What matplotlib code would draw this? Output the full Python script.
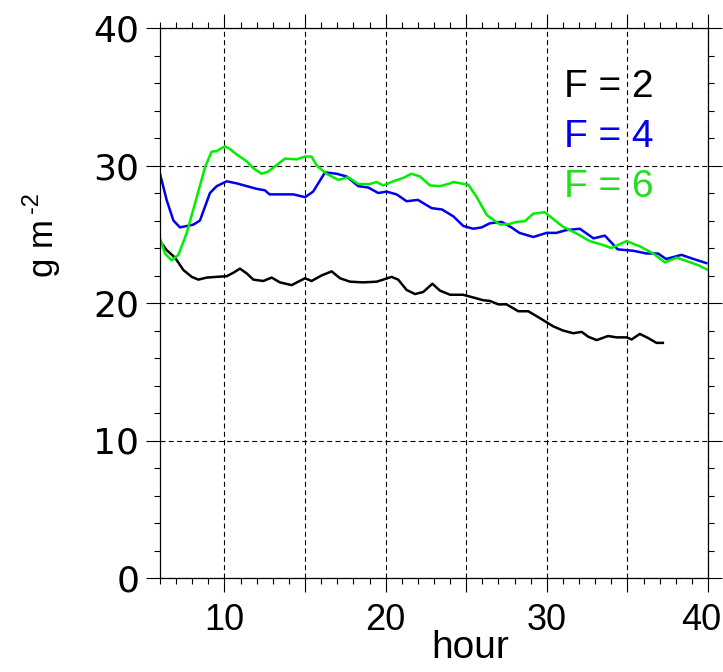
import numpy as np
import matplotlib
matplotlib.use('Agg')
import matplotlib.pyplot as plt
from matplotlib.ticker import MultipleLocator, FuncFormatter
from matplotlib.transforms import ScaledTranslation

# values
hour_f2 = [6.0, 6.41, 6.93, 7.45, 7.97, 8.38, 8.9, 9.52, 10.14, 10.55, 10.96, 11.38, 11.79,
           12.41, 12.93, 13.44, 14.17, 14.58, 15.0, 15.4, 16.02, 16.65, 17.17, 17.79, 18.6,
           19.44, 19.85, 20.37, 20.78, 21.3, 21.82, 22.33, 22.9, 23.37, 24.0, 24.8, 25.44,
           26.06, 26.47, 26.99, 27.5, 28.23, 28.85, 29.57, 30.4, 31.0, 31.64, 32.16, 32.57,
           33.09, 33.8, 34.33, 34.95, 35.26, 35.77, 36.29, 36.8, 37.2]
val_f2 = [24.5, 23.85, 23.3, 22.4, 21.9, 21.7, 21.85, 21.9, 21.95, 22.2, 22.5, 22.15, 21.7,
          21.6, 21.85, 21.5, 21.3, 21.55, 21.8, 21.6, 22.0, 22.3, 21.8, 21.55, 21.5,
          21.55, 21.7, 21.9, 21.7, 20.95, 20.65, 20.8, 21.4, 20.9, 20.6, 20.6, 20.4,
          20.2, 20.15, 19.9, 19.9, 19.4, 19.4, 18.9, 18.3, 18.0, 17.8, 17.9, 17.55,
          17.3, 17.6, 17.5, 17.5, 17.35, 17.75, 17.45, 17.1, 17.1]

hour_f4 = [6.0, 6.41, 6.83, 7.24, 7.66, 8.07, 8.48, 9.1, 9.52, 10.14, 10.76, 11.38, 12.0,
           12.5, 12.8, 13.65, 14.27, 15.0, 15.5, 16.24, 16.96, 17.58, 18.3, 18.92, 19.54,
           20.06, 20.68, 21.3, 22.0, 22.85, 23.5, 24.2, 24.82, 25.44, 25.96, 26.47, 27.2,
           27.8, 28.3, 29.16, 29.99, 30.6, 31.2, 32.05, 32.9, 33.6, 34.4, 35.35, 36.2,
           36.9, 37.4, 38.35, 39.1, 39.9]
val_f4 = [29.4, 27.5, 26.0, 25.5, 25.6, 25.7, 26.0, 28.0, 28.5, 28.85, 28.7, 28.5, 28.3,
          28.2, 27.9, 27.9, 27.9, 27.7, 28.1, 29.5, 29.4, 29.2, 28.5, 28.4, 28.0,
          28.1, 27.9, 27.4, 27.5, 26.9, 26.8, 26.3, 25.6, 25.4, 25.5, 25.8, 25.9,
          25.5, 25.1, 24.8, 25.1, 25.1, 25.3, 25.4, 24.7, 24.9, 23.9, 23.8, 23.6,
          23.6, 23.2, 23.5, 23.2, 22.9]

hour_f6 = [6.0, 6.31, 6.72, 7.14, 7.66, 8.28, 8.8, 9.2, 9.52, 10.03, 10.34, 10.76, 11.38,
           11.79, 12.3, 12.7, 13.2, 13.75, 14.48, 15.0, 15.4, 15.72, 16.33, 17.06, 17.68,
           18.3, 19.0, 19.44, 19.85, 20.47, 21.1, 21.6, 22.13, 22.75, 23.37, 24.0, 24.2,
           25.13, 25.65, 26.27, 27.1, 27.7, 28.13, 28.64, 29.16, 29.88, 30.4, 31.0, 31.85,
           32.67, 33.4, 34.0, 34.95, 35.8, 36.6, 37.33, 38.05, 38.67, 39.4, 40.0]
val_f6 = [24.7, 23.6, 23.1, 23.5, 25.1, 27.7, 29.9, 31.0, 31.05, 31.4, 31.2, 30.8, 30.3,
          29.8, 29.4, 29.55, 30.0, 30.5, 30.45, 30.65, 30.65, 30.0, 29.4, 28.95, 29.15,
          28.65, 28.65, 28.8, 28.55, 28.85, 29.1, 29.4, 29.2, 28.55, 28.5, 28.7, 28.8,
          28.6, 27.7, 26.4, 25.7, 25.75, 25.9, 25.95, 26.5, 26.6, 26.1, 25.55, 25.05,
          24.5, 24.25, 24.0, 24.5, 24.1, 23.6, 22.95, 23.3, 23.05, 22.75, 22.4]

labels = ['F = 2', 'F = 4', 'F = 6']
line_colors = ['black', '#0000ee', '#00ee00']
text_colors = ['black', '#0000ee', '#22dd22']

plt.rcParams['font.family'] = ['Liberation Sans', 'DejaVu Sans']

fig = plt.figure(figsize=(7.23, 6.72), dpi=100)
ax = fig.add_axes([160 / 723, 1 - 578 / 672, 548 / 723, 550 / 672])

ax.plot(hour_f2, val_f2, color=line_colors[0], lw=1.8)
ax.plot(hour_f4, val_f4, color=line_colors[1], lw=1.8)
ax.plot(hour_f6, val_f6, color=line_colors[2], lw=1.8)

ax.set_xlim(6, 40)
ax.set_ylim(0, 40)

ax.xaxis.set_major_locator(MultipleLocator(5))
ax.xaxis.set_minor_locator(MultipleLocator(1))
ax.yaxis.set_major_locator(MultipleLocator(10))
ax.yaxis.set_minor_locator(MultipleLocator(2))
ax.xaxis.set_major_formatter(FuncFormatter(lambda v, p: '%d' % v if v % 10 == 0 else ''))

ax.tick_params(which='both', direction='out', top=True, right=True, width=0.8)
ax.tick_params(which='major', length=10)
ax.tick_params(which='minor', length=4.5)
ax.tick_params(axis='x', which='major', pad=8, labelsize=26)
ax.tick_params(axis='y', which='major', pad=5, labelsize=26, labelfontfamily='DejaVu Sans')
for sp in ax.spines.values():
    sp.set_linewidth(0.9)

ax.grid(True, which='major', color='black', lw=0.8, linestyle=(0, (4.5, 3)))

# keep the "40" at the right edge inside the picture
fig.canvas.draw()
for tick in ax.xaxis.get_major_ticks():
    if abs(tick.get_loc() - 40) < 1e-6:
        lab = tick.label1
        lab.set_transform(lab.get_transform() + ScaledTranslation(-0.07, 0, fig.dpi_scale_trans))

for i, lab in enumerate(labels):
    ax.text(564 / 723, 1 - (97 + 50 * i) / 672, lab, transform=fig.transFigure,
            color=text_colors[i], fontsize=28, ha='left', va='baseline')

# y label: "g m" with a small "-2" (plain hyphen) superscript
fig.text(44 / 723, 1 - 248 / 672, 'g m', rotation=90, ha='center', va='center', fontsize=25)
fig.text(32 / 723, 1 - 203 / 672, '-2', rotation=90, ha='center', va='center', fontsize=17)
fig.text(470 / 723, 1 - 648 / 672, 'hour', ha='center', va='center', fontsize=28)

fig.savefig('out.png', dpi=100)
